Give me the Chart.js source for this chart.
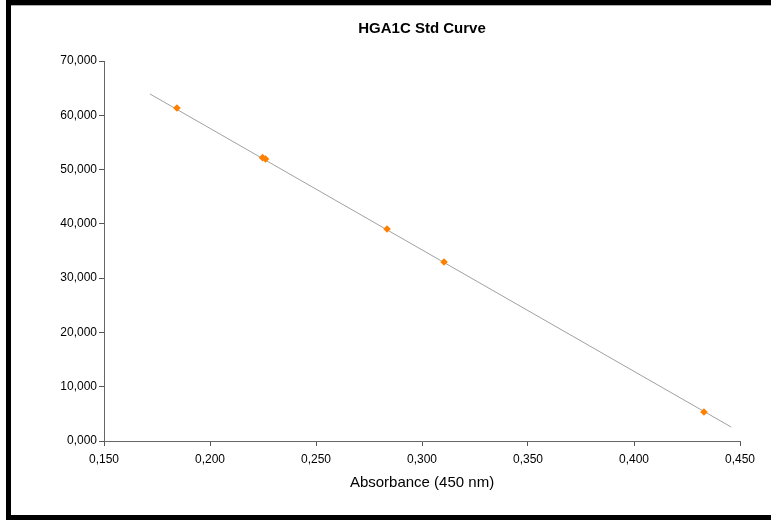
<!DOCTYPE html>
<html>
<head>
<meta charset="utf-8">
<script src="https://cdn.jsdelivr.net/npm/chart.js@4/dist/chart.umd.min.js"></script>
<style>
  html, body { margin: 0; padding: 0; background: #fff; overflow: hidden; width: 771px; height: 522px; }
  #wrap { position: relative; width: 771px; height: 522px; overflow: hidden; background: #fff; }
  canvas { position: absolute; left: 0; top: 0; }
  #fTop { position: absolute; left: 6px; top: 0; width: 765px; height: 5px; background: #000; }
  #fTopLine { position: absolute; left: 11px; top: 5px; width: 760px; height: 1px; background: #b0b0b0; }
  #fLeft { position: absolute; left: 6px; top: 0; width: 5px; height: 520px; background: #000; }
  #fBottom { position: absolute; left: 6px; top: 515px; width: 765px; height: 5px; background: #000; }
</style>
</head>
<body>
<div id="wrap">
  <canvas id="c" width="771" height="522"></canvas>
  <div id="fTop"></div><div id="fTopLine"></div><div id="fLeft"></div><div id="fBottom"></div>
</div>
<script>
// Data
const absorbance    = [0.1844, 0.2248, 0.2262, 0.2835, 0.3104, 0.4330];
const concentration = [61340, 52200, 51950, 39050, 32970, 5340];
// Linear trend line end points
const trendX = [0.1717, 0.4458];
const trendY = [63920, 2580];
// Tick labels
const xTickLabels = ['0,150', '0,200', '0,250', '0,300', '0,350', '0,400', '0,450'];
const yTickLabels = ['0,000', '10,000', '20,000', '30,000', '40,000', '50,000', '60,000', '70,000'];
const chartTitle = 'HGA1C Std Curve';
const xAxisTitle = 'Absorbance (450 nm)';

const pointData = absorbance.map((x, i) => ({ x: x, y: concentration[i] }));
const trendData = trendX.map((x, i) => ({ x: x, y: trendY[i] }));

const centerTitle = {
  id: 'centerTitle',
  afterLayout(chart) {
    const t = chart.titleBlock;
    if (t) { t.left = chart.chartArea.left; t.right = chart.chartArea.right; }
  }
};

const FONT = "'Liberation Sans', Arial, sans-serif";

new Chart(document.getElementById('c'), {
  type: 'scatter',
  data: {
    datasets: [
      {
        label: 'Points',
        data: pointData,
        showLine: false,
        pointStyle: 'rectRot',
        pointRadius: 3.8,
        backgroundColor: '#FF8000',
        borderColor: '#FF8000',
        borderWidth: 0,
        order: 0
      },
      {
        label: 'Trend',
        data: trendData,
        showLine: true,
        pointRadius: 0,
        borderColor: '#a0a0a0',
        borderWidth: 1,
        order: 1
      }
    ]
  },
  options: {
    responsive: false,
    animation: false,
    devicePixelRatio: 1,
    layout: { padding: { left: 0, right: 31, top: 0, bottom: 30.6 } },
    plugins: {
      legend: { display: false },
      tooltip: { enabled: false },
      title: {
        display: true,
        text: chartTitle,
        color: '#000',
        font: { family: FONT, size: 15, weight: 'bold' },
        padding: { top: 20, bottom: 23 }
      }
    },
    scales: {
      x: {
        type: 'linear',
        min: 0.15,
        max: 0.45,
        afterFit: s => { s.height = 50.4; },
        afterBuildTicks: s => { s.ticks = xTickLabels.map((_, i) => ({ value: 0.15 + i * 0.05 })); },
        ticks: {
          callback: (v, i) => xTickLabels[i],
          color: '#000',
          font: { family: FONT, size: 12 },
          padding: 6,
          maxRotation: 0,
          autoSkip: false
        },
        grid: { drawOnChartArea: false, drawTicks: true, tickLength: 5, color: '#555' },
        border: { color: '#666', width: 1 },
        title: {
          display: true,
          text: xAxisTitle,
          color: '#000',
          font: { family: FONT, size: 15 },
          padding: 0
        }
      },
      y: {
        type: 'linear',
        min: 0,
        max: 70000,
        afterFit: s => { s.width = 104; },
        afterBuildTicks: s => { s.ticks = yTickLabels.map((_, i) => ({ value: i * 10000 })); },
        ticks: {
          callback: (v, i) => yTickLabels[i],
          color: '#000',
          font: { family: FONT, size: 12 },
          padding: 2,
          autoSkip: false
        },
        grid: { drawOnChartArea: false, drawTicks: true, tickLength: 5, color: '#555' },
        border: { color: '#666', width: 1 }
      }
    }
  },
  plugins: [centerTitle]
});
</script>
</body>
</html>
